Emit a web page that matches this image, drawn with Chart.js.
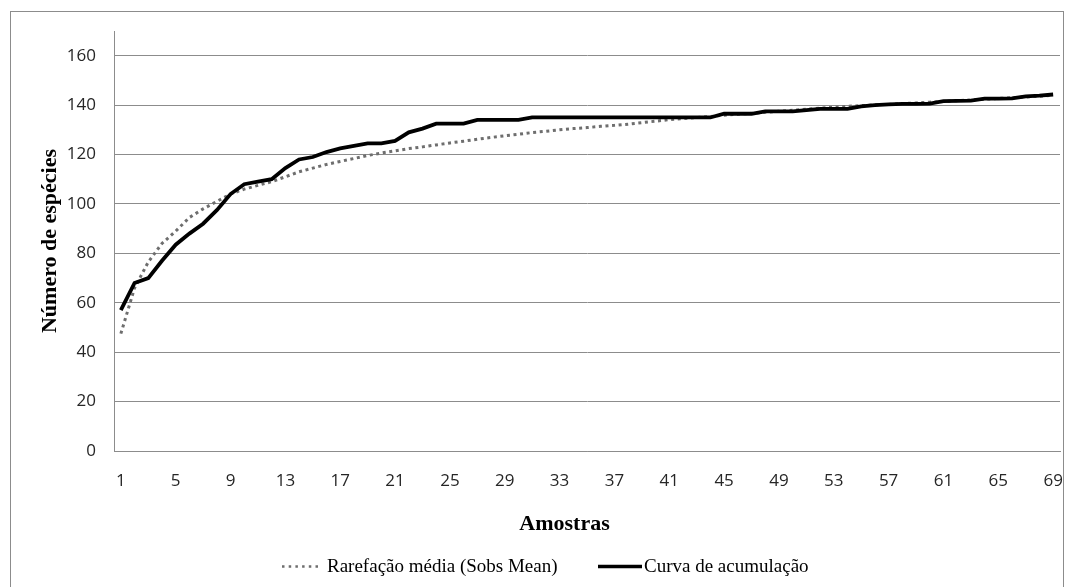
<!DOCTYPE html>
<html>
<head>
<meta charset="utf-8">
<script src="https://cdn.jsdelivr.net/npm/chart.js@4.4.1/dist/chart.umd.min.js"></script>
<style>
  html, body { margin: 0; padding: 0; background: #fff; }
  #wrap { position: relative; width: 1067px; height: 587px; overflow: hidden; }
  #frame { position: absolute; left: 10px; top: 11px; width: 1052px; height: 600px; border: 1px solid #8c8c8c; }
  canvas { position: absolute; left: 0; top: 0; }
</style>
</head>
<body>
<div id="wrap">
  <div id="frame"></div>
  <canvas id="chart" width="1067" height="587"></canvas>
</div>
<script>
// Samples 1..69
const samples = ['1','2','3','4','5','6','7','8','9','10','11','12','13','14','15','16','17','18','19','20',
  '21','22','23','24','25','26','27','28','29','30','31','32','33','34','35','36','37','38','39','40',
  '41','42','43','44','45','46','47','48','49','50','51','52','53','54','55','56','57','58','59','60',
  '61','62','63','64','65','66','67','68','69'];

// Labelled samples on the horizontal axis
const xTickLabels = ['1','5','9','13','17','21','25','29','33','37','41','45','49','53','57','61','65','69'];

// Labelled values on the vertical axis
const yTickValues = [0, 20, 40, 60, 80, 100, 120, 140, 160];

// Rarefação média (Sobs Mean)
const sobsMean = [47.5, 66, 76.5, 84, 89, 94.5, 98, 101, 104, 106,
  107.5, 109, 111, 113, 114.5, 116, 117.2, 118.4, 119.6, 120.6,
  121.5, 122.4, 123.1, 123.9, 124.7, 125.4, 126.2, 126.9, 127.6, 128.2,
  128.9, 129.4, 130.0, 130.5, 130.9, 131.4, 131.8, 132.3, 132.9, 133.5,
  134.1, 134.5, 135.0, 135.4, 135.9, 136.3, 136.7, 137.1, 137.5, 137.9,
  138.3, 138.8, 139.1, 139.5, 139.8, 140.1, 140.3, 140.6, 140.9, 141.2,
  141.5, 141.8, 142.1, 142.4, 142.7, 143.0, 143.3, 143.6, 144.0];

// Curva de acumulação
const accumulation = [57, 68, 70, 77, 83.5, 88, 92, 97.5, 104, 108,
  109, 110, 114.5, 118, 119, 121, 122.5, 123.5, 124.5, 124.5,
  125.5, 129, 130.5, 132.5, 132.5, 132.5, 134, 134, 134, 134,
  135, 135, 135, 135, 135, 135, 135, 135, 135, 135,
  135, 135, 135, 135, 136.5, 136.5, 136.5, 137.5, 137.5, 137.5,
  138, 138.5, 138.5, 138.5, 139.5, 140, 140.3, 140.5, 140.5, 140.6,
  141.6, 141.7, 141.8, 142.6, 142.6, 142.7, 143.5, 143.8, 144.3];

const xTitle = 'Amostras';
const yTitle = 'Número de espécies';

const axisGray = '#8c8c8c';
const serif = '"Liberation Serif", "Times New Roman", serif';
const tickFont = { family: '"Open Sans", Lato, sans-serif', size: 17 };

// Axis title under the category axis and the legend row
const bottomTexts = {
  id: 'bottomTexts',
  afterDraw(chart) {
    const ctx = chart.ctx;
    ctx.save();
    ctx.fillStyle = '#000';
    ctx.textBaseline = 'middle';

    ctx.font = 'bold 22px ' + serif;
    ctx.textAlign = 'center';
    ctx.fillText(xTitle, 564.5, 524);

    ctx.font = '19px ' + serif;
    ctx.textAlign = 'left';
    const items = [
      { ds: chart.data.datasets[0], x0: 282, x1: 322, tx: 327 },
      { ds: chart.data.datasets[1], x0: 598, x1: 642, tx: 644 }
    ];
    const ly = 566.5;
    items.forEach(it => {
      ctx.save();
      ctx.strokeStyle = it.ds.borderColor;
      ctx.lineWidth = it.ds.legendLineWidth;
      ctx.setLineDash(it.ds.legendDash || []);
      ctx.beginPath();
      ctx.moveTo(it.x0, ly);
      ctx.lineTo(it.x1, ly);
      ctx.stroke();
      ctx.restore();
      ctx.fillStyle = '#000';
      ctx.fillText(it.ds.label, it.tx, 567);
    });
    ctx.restore();
  }
};

new Chart(document.getElementById('chart'), {
  type: 'line',
  data: {
    labels: samples,
    datasets: [
      {
        label: 'Rarefação média (Sobs Mean)',
        data: sobsMean,
        borderColor: '#6e6e6e',
        borderWidth: 3,
        borderDash: [3, 3.6],
        borderCapStyle: 'butt',
        legendDash: [2.5, 4.2],
        legendLineWidth: 2.5,
        pointRadius: 0,
        tension: 0,
        fill: false,
        order: 1
      },
      {
        label: 'Curva de acumulação',
        data: accumulation,
        borderColor: '#000000',
        borderWidth: 3.8,
        legendLineWidth: 3.5,
        pointRadius: 0,
        tension: 0,
        fill: false,
        order: 0
      }
    ]
  },
  options: {
    responsive: false,
    animation: false,
    events: [],
    devicePixelRatio: 1,
    layout: { padding: { left: 27, right: 7, top: 31, bottom: 0 } },
    plugins: {
      legend: { display: false },
      tooltip: { enabled: false },
      title: { display: false }
    },
    scales: {
      x: {
        type: 'category',
        offset: true,
        grid: { display: false, drawTicks: true, tickLength: 20 },
        border: { display: true, color: axisGray, width: 1 },
        ticks: {
          autoSkip: false,
          maxRotation: 0,
          minRotation: 0,
          padding: 0,
          color: '#262626',
          font: tickFont,
          callback(value, index) {
            const lab = samples[index];
            return xTickLabels.includes(lab) ? lab : '';
          }
        },
        afterFit(scale) { scale.height = 136; }
      },
      y: {
        type: 'linear',
        min: 0,
        max: 170,
        bounds: 'data',
        grid: { color: axisGray, lineWidth: 1, drawTicks: false },
        border: { display: true, color: axisGray, width: 1 },
        ticks: {
          padding: 18,
          color: '#262626',
          font: tickFont,
          includeBounds: false
        },
        afterBuildTicks(scale) {
          scale.ticks = yTickValues.map(v => ({ value: v }));
        },
        title: {
          display: true,
          text: yTitle,
          color: '#000',
          font: { family: serif, size: 22, weight: 'bold' },
          padding: { top: 10, bottom: 0 }
        },
        afterFit(scale) { scale.width = 87; }
      }
    }
  },
  plugins: [bottomTexts]
});
</script>
</body>
</html>
